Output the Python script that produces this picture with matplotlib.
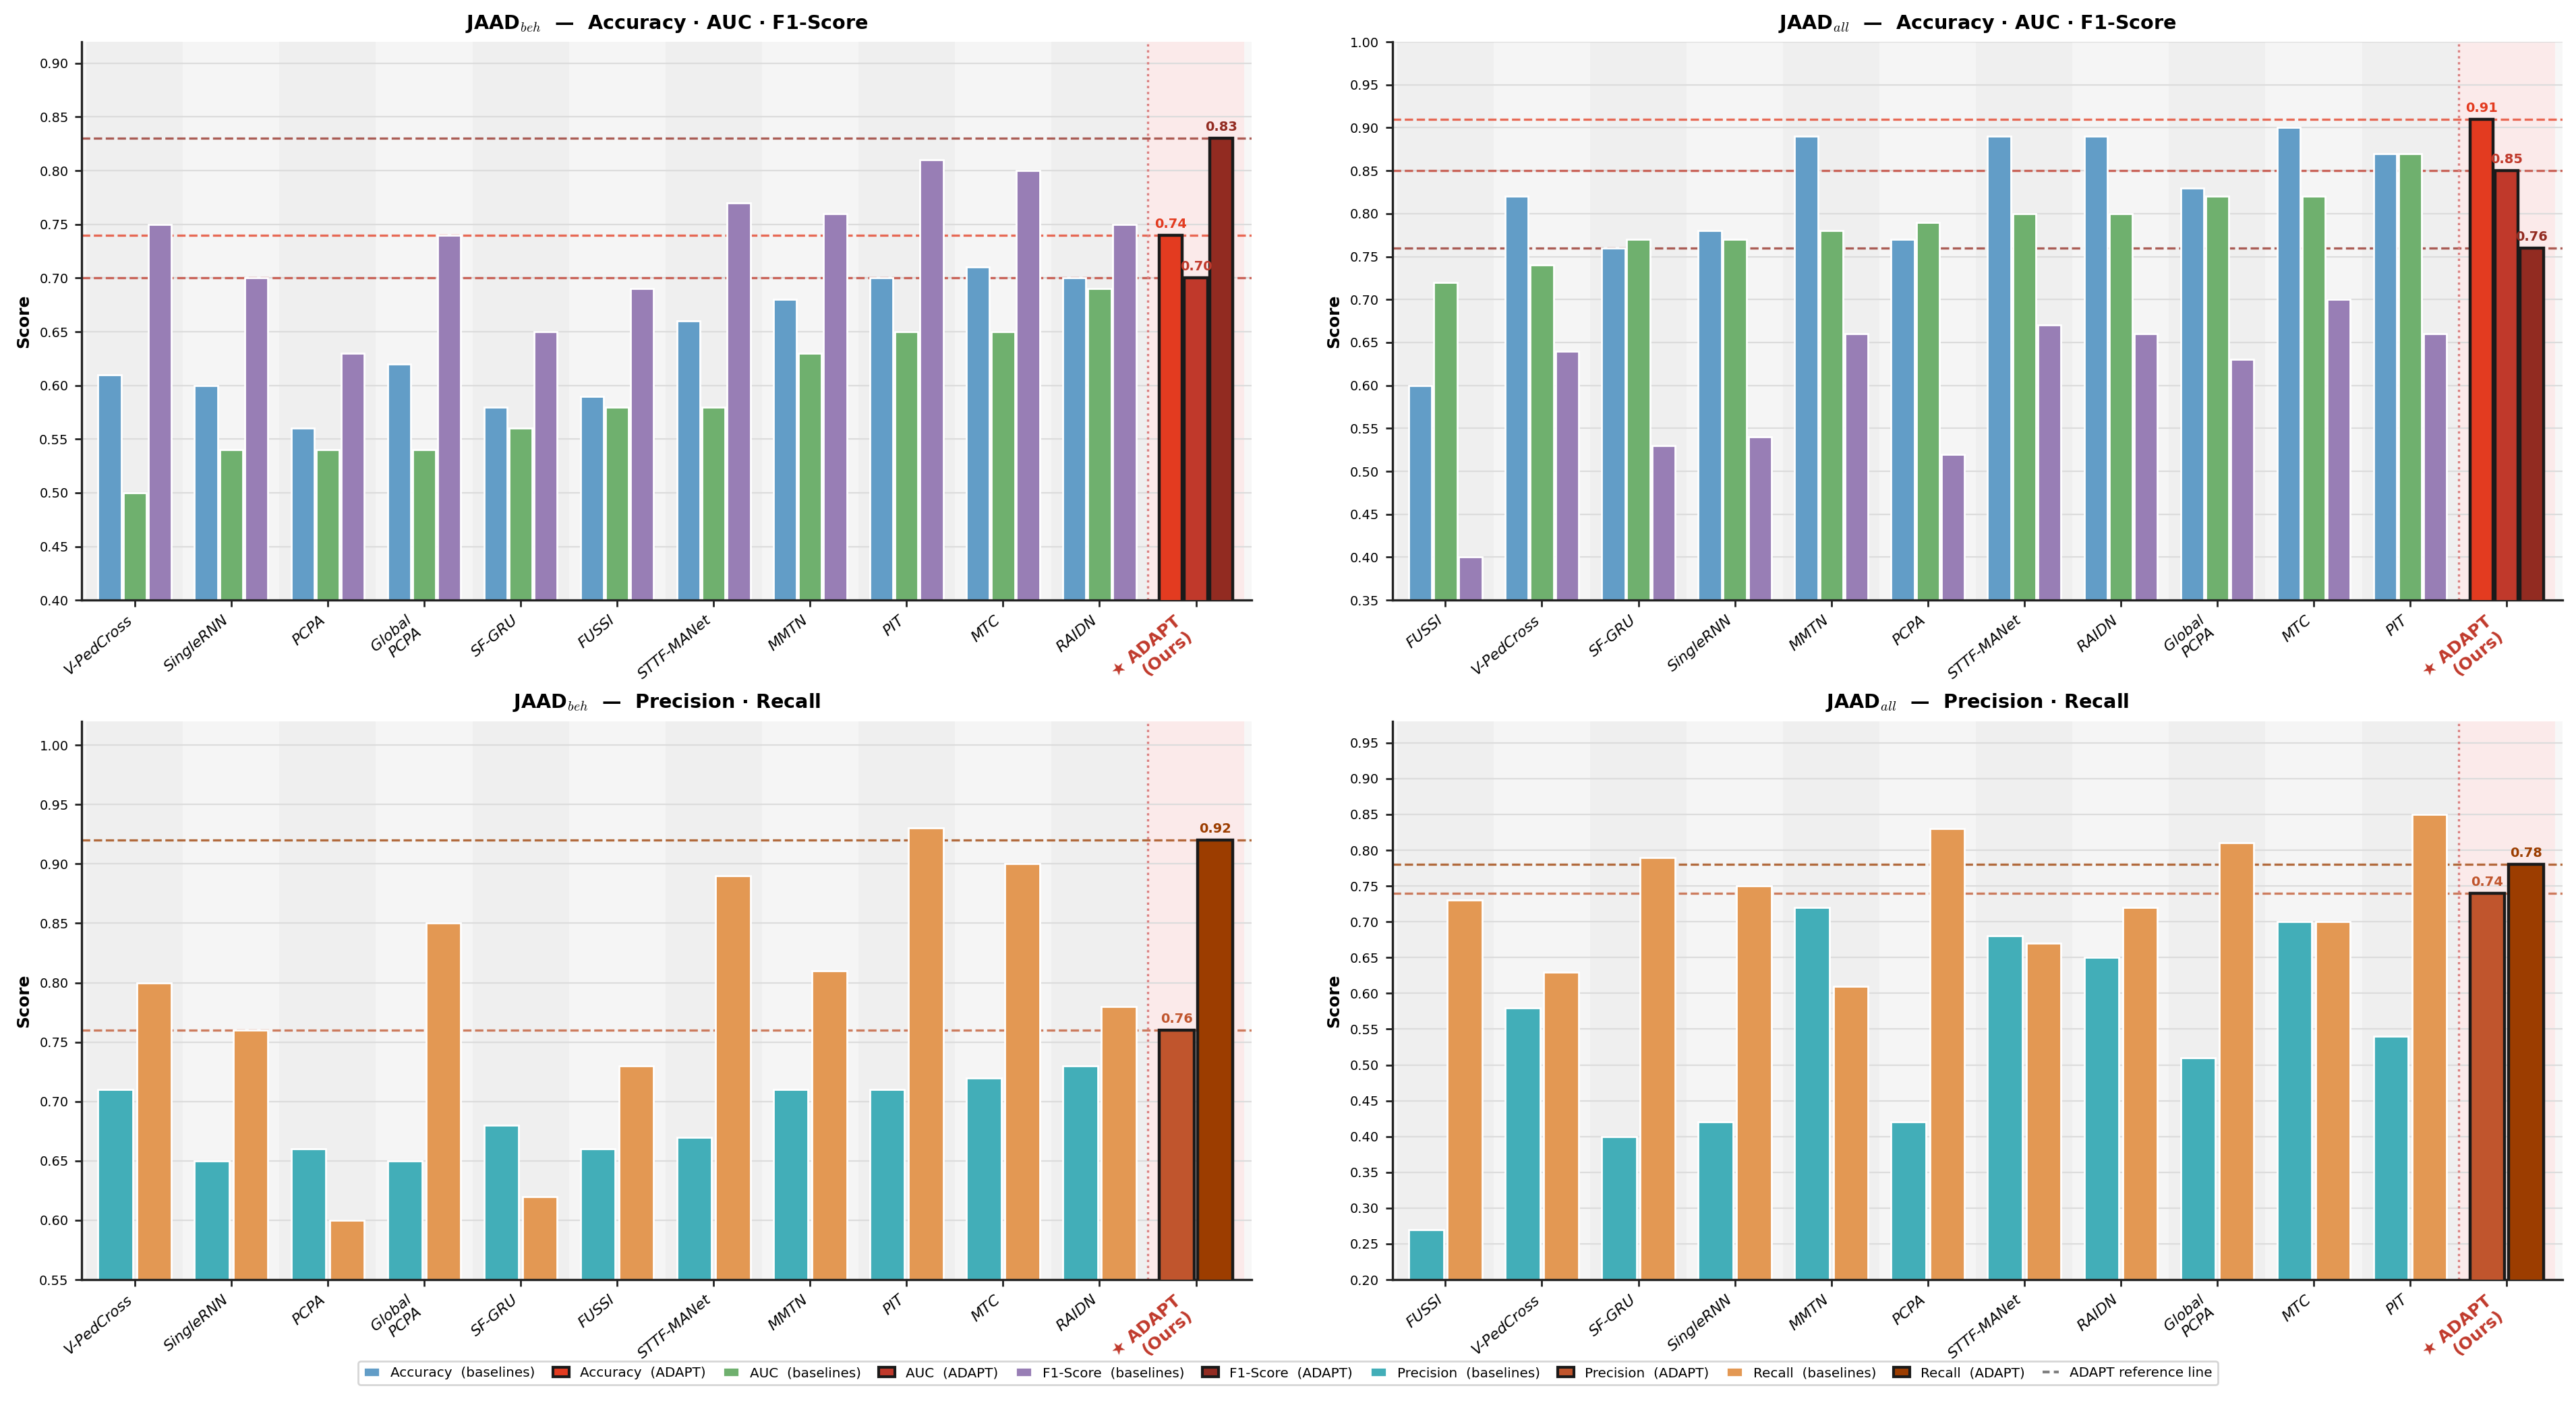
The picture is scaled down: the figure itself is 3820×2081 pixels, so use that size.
import numpy as np
import matplotlib
matplotlib.use("Agg")
import matplotlib.pyplot as plt
from matplotlib.patches import Patch
from matplotlib.lines import Line2D

plt.rcParams["mathtext.fontset"] = "cm"

# model order per dataset
beh_models = ["V-PedCross", "SingleRNN", "PCPA", "Global\nPCPA", "SF-GRU", "FUSSI",
              "STTF-MANet", "MMTN", "PIT", "MTC", "RAIDN"]
all_models = ["FUSSI", "V-PedCross", "SF-GRU", "SingleRNN", "MMTN", "PCPA",
              "STTF-MANet", "RAIDN", "Global\nPCPA", "MTC", "PIT"]

# JAAD_beh baselines
beh_acc = [0.61, 0.60, 0.56, 0.62, 0.58, 0.59, 0.66, 0.68, 0.70, 0.71, 0.70]
beh_auc = [0.50, 0.54, 0.54, 0.54, 0.56, 0.58, 0.58, 0.63, 0.65, 0.65, 0.69]
beh_f1 = [0.75, 0.70, 0.63, 0.74, 0.65, 0.69, 0.77, 0.76, 0.81, 0.80, 0.75]
beh_prec = [0.71, 0.65, 0.66, 0.65, 0.68, 0.66, 0.67, 0.71, 0.71, 0.72, 0.73]
beh_rec = [0.80, 0.76, 0.60, 0.85, 0.62, 0.73, 0.89, 0.81, 0.93, 0.90, 0.78]

# JAAD_all baselines
all_acc = [0.60, 0.82, 0.76, 0.78, 0.89, 0.77, 0.89, 0.89, 0.83, 0.90, 0.87]
all_auc = [0.72, 0.74, 0.77, 0.77, 0.78, 0.79, 0.80, 0.80, 0.82, 0.82, 0.87]
all_f1 = [0.40, 0.64, 0.53, 0.54, 0.66, 0.52, 0.67, 0.66, 0.63, 0.70, 0.66]
all_prec = [0.27, 0.58, 0.40, 0.42, 0.72, 0.42, 0.68, 0.65, 0.51, 0.70, 0.54]
all_rec = [0.73, 0.63, 0.79, 0.75, 0.61, 0.83, 0.67, 0.72, 0.81, 0.70, 0.85]

# ADAPT (ours)
beh_adapt_main = [0.74, 0.70, 0.83]
beh_adapt_pr = [0.76, 0.92]
all_adapt_main = [0.91, 0.85, 0.76]
all_adapt_pr = [0.74, 0.78]

# colours
base_main_colors = ["#629dc7", "#6fb06e", "#987eb5"]
adapt_main_colors = ["#e33b20", "#c0392b", "#922b21"]
base_pr_colors = ["#42aeb8", "#e39853"]
adapt_pr_colors = ["#c0552d", "#9c3d00"]
ours_color = "#c0392b"


def draw_panel(ax, models, series, adapt_vals, bcols, acols, ylim, title,
               width, offsets):
    n = len(models)
    x = np.arange(n)
    ax.set_facecolor("#f7f7f7")
    for i in range(n):
        ax.axvspan(i - 0.5, i + 0.5, color="#efefef" if i % 2 == 0 else "#f5f5f5",
                   lw=0, zorder=0)
    ax.axvspan(n - 0.5, n + 0.5, color="#fbeaea", lw=0, zorder=0)

    for vals, off, c in zip(series, offsets, bcols):
        ax.bar(x + off, vals, width, color=c, edgecolor="white", lw=1.0, zorder=2)

    for v, off, c in zip(adapt_vals, offsets, acols):
        ax.bar(n + off, v, width, color=c, edgecolor="#1a1a1a", lw=1.6, zorder=3)
        ax.axhline(v, color=c, ls="--", lw=1.2, alpha=0.75, zorder=1.5)
        ax.annotate(f"{v:.2f}", (n + off, v), xytext=(0, 2.5), textcoords="offset points",
                    ha="center", va="bottom", fontsize=7, fontweight="bold", color=c,
                    zorder=4)

    ax.axvline(n - 0.5, color="#d98080", ls=":", lw=1.2, zorder=1.5)

    ax.set_xlim(-0.55, n + 0.58)
    ax.set_ylim(*ylim)
    ax.set_yticks(np.arange(ylim[0], ylim[1] + 1e-6, 0.05))
    ax.yaxis.set_major_formatter(plt.FormatStrFormatter("%.2f"))
    ax.set_axisbelow(True)
    ax.yaxis.grid(True, color="#dcdcdc", lw=0.8)
    ax.tick_params(axis="both", labelsize=7, length=3.5, width=1, color="#222222")

    ax.set_xticks(np.arange(n + 1))
    labels = ax.set_xticklabels(models + ["\u2605 ADAPT\n(Ours)"], rotation=40,
                                ha="right", fontsize=8, fontstyle="italic")
    labels[-1].set_color(ours_color)
    labels[-1].set_fontweight("bold")
    labels[-1].set_fontstyle("normal")
    labels[-1].set_fontsize(9)

    for s in ["top", "right"]:
        ax.spines[s].set_visible(False)
    for s in ["left", "bottom"]:
        ax.spines[s].set_color("#222222")
        ax.spines[s].set_linewidth(1.2)

    ax.set_ylabel("Score", fontsize=9, fontweight="bold")
    ax.set_title(title, fontsize=10.3, fontweight="bold", pad=7)


fig, axes = plt.subplots(2, 2, figsize=(19.1, 10.405), dpi=200)
fig.subplots_adjust(left=0.0317, right=0.9948, top=0.9702, bottom=0.0879,
                     wspace=0.12, hspace=0.217)

main_off = [-0.26, 0.0, 0.26]
pr_off = [-0.2, 0.2]

draw_panel(axes[0, 0], beh_models, [beh_acc, beh_auc, beh_f1], beh_adapt_main,
           base_main_colors, adapt_main_colors, (0.40, 0.92),
           r"JAAD$_{beh}$  —  Accuracy · AUC · F1-Score", 0.24, main_off)
draw_panel(axes[0, 1], all_models, [all_acc, all_auc, all_f1], all_adapt_main,
           base_main_colors, adapt_main_colors, (0.35, 1.00),
           r"JAAD$_{all}$  —  Accuracy · AUC · F1-Score", 0.24, main_off)
draw_panel(axes[1, 0], beh_models, [beh_prec, beh_rec], beh_adapt_pr,
           base_pr_colors, adapt_pr_colors, (0.55, 1.02),
           r"JAAD$_{beh}$  —  Precision · Recall", 0.36, pr_off)
draw_panel(axes[1, 1], all_models, [all_prec, all_rec], all_adapt_pr,
           base_pr_colors, adapt_pr_colors, (0.20, 0.98),
           r"JAAD$_{all}$  —  Precision · Recall", 0.36, pr_off)

# shared legend
metrics = ["Accuracy", "AUC", "F1-Score", "Precision", "Recall"]
bcols = base_main_colors + base_pr_colors
acols = adapt_main_colors + adapt_pr_colors
handles = []
for m, bc, ac in zip(metrics, bcols, acols):
    handles.append(Patch(facecolor=bc, edgecolor="white", label=f"{m}  (baselines)"))
    handles.append(Patch(facecolor=ac, edgecolor="#1a1a1a", lw=1.5, label=f"{m}  (ADAPT)"))
handles.append(Line2D([0], [0], color="gray", lw=1.5, dashes=(2.5, 1.5),
                      label="ADAPT reference line"))
fig.legend(handles=handles, loc="lower center", bbox_to_anchor=(0.5, 0.008), ncol=11,
           fontsize=7.2, frameon=True, edgecolor="#cccccc", handlelength=1.2,
           columnspacing=1.3)

fig.savefig("out.png", dpi=200, facecolor="white")
